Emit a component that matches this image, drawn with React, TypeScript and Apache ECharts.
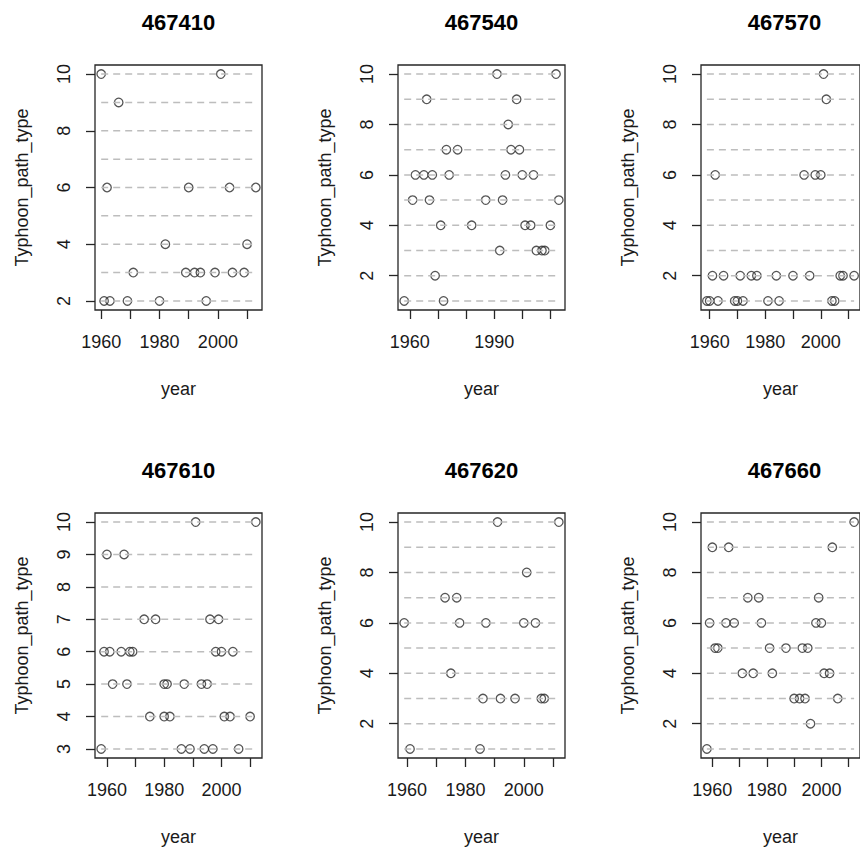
import React, { useEffect, useRef } from "react";
import * as echarts from "echarts";

// ---- data ----
const stations = ["467410", "467540", "467570", "467610", "467620", "467660"];

const years467410 = [1960, 2001, 1966, 1962, 1990, 2004, 2013, 1982, 2010, 1971, 1989, 1992, 1994, 1999, 2005, 2009, 1961, 1963, 1969, 1980, 1996];
const types467410 = [10, 10, 9, 6, 6, 6, 6, 4, 4, 3, 3, 3, 3, 3, 3, 3, 2, 2, 2, 2, 2];

const years467540 = [1991, 2012, 1966, 1998, 1995, 1973, 1977, 1996, 1999, 1962, 1965, 1968, 1974, 1994, 2000, 2004, 1961, 1967, 1987, 1993, 2013, 1971, 1982, 2001, 2003, 2010, 1992, 2005, 2007, 2008, 1969, 1958, 1972];
const types467540 = [10, 10, 9, 9, 8, 7, 7, 7, 7, 6, 6, 6, 6, 6, 6, 6, 5, 5, 5, 5, 5, 4, 4, 4, 4, 4, 3, 3, 3, 3, 2, 1, 1];

const years467570 = [2001, 2002, 1962, 1994, 1998, 2000, 1961, 1965, 1971, 1975, 1977, 1984, 1990, 1996, 2007, 2008, 2012, 1959, 1960, 1963, 1969, 1970, 1972, 1981, 1985, 2004, 2005];
const types467570 = [10, 9, 6, 6, 6, 6, 2, 2, 2, 2, 2, 2, 2, 2, 2, 2, 2, 1, 1, 1, 1, 1, 1, 1, 1, 1, 1];

const years467610 = [1991, 2012, 1960, 1966, 1973, 1977, 1996, 1999, 1959, 1961, 1965, 1968, 1969, 1998, 2000, 2004, 1962, 1967, 1980, 1981, 1987, 1993, 1995, 1975, 1980, 1982, 2001, 2003, 2010, 1958, 1986, 1989, 1994, 1997, 2006];
const types467610 = [10, 10, 9, 9, 7, 7, 7, 7, 6, 6, 6, 6, 6, 6, 6, 6, 5, 5, 5, 5, 5, 5, 5, 4, 4, 4, 4, 4, 4, 3, 3, 3, 3, 3, 3];

const years467620 = [1991, 2012, 2001, 1973, 1977, 1959, 1978, 1987, 2000, 2004, 1975, 1986, 1992, 1997, 2006, 2007, 1961, 1985];
const types467620 = [10, 10, 8, 7, 7, 6, 6, 6, 6, 6, 4, 3, 3, 3, 3, 3, 1, 1];

const years467660 = [2012, 1960, 1966, 2004, 1973, 1977, 1999, 1959, 1965, 1968, 1978, 1998, 2000, 1961, 1962, 1981, 1987, 1993, 1995, 1971, 1975, 1982, 2001, 2003, 1990, 1992, 1994, 2006, 1996, 1958];
const types467660 = [10, 9, 9, 9, 7, 7, 7, 6, 6, 6, 6, 6, 6, 5, 5, 5, 5, 5, 5, 4, 4, 4, 4, 4, 3, 3, 3, 3, 2, 1];

const panelYears = [years467410, years467540, years467570, years467610, years467620, years467660];
const panelTypes = [types467410, types467540, types467570, types467610, types467620, types467660];

const yearTicks = [1960, 1970, 1980, 1990, 2000, 2010];
const yearLabels = [
  [1960, 1980, 2000],
  [1960, 1990],
  [1960, 1980, 2000],
  [1960, 1980, 2000],
  [1960, 1980, 2000],
  [1960, 1980, 2000],
];
const typeTicks = [
  [2, 4, 6, 8, 10],
  [2, 4, 6, 8, 10],
  [2, 4, 6, 8, 10],
  [3, 4, 5, 6, 7, 8, 9, 10],
  [2, 4, 6, 8, 10],
  [2, 4, 6, 8, 10],
];

const xName = "year";
const yName = "Typhoon_path_type";

// ---- layout / style ----
const FONT = "'Liberation Sans', Arial, sans-serif";
const BOX_W = 167;
const BOX_H = 245;
const COL_STEP = 303;
const ROW_STEP = 448;
const LEFT0 = 95;
const TOP0 = 65;
const TEXT = "#1a1a1a";

function rRange(vals: number[]) {
  const lo = Math.min(...vals);
  const hi = Math.max(...vals);
  const d = (hi - lo) * 0.04;
  return { lo, hi, min: lo - d, max: hi + d };
}

function buildOption() {
  const grid: any[] = [];
  const xAxis: any[] = [];
  const yAxis: any[] = [];
  const series: any[] = [];
  const graphic: any[] = [];

  stations.forEach((st, i) => {
    const col = i % 3;
    const row = Math.floor(i / 3);
    const left = LEFT0 + COL_STEP * col;
    const top = TOP0 + ROW_STEP * row;
    const xr = rRange(panelYears[i]);
    const yr = rRange(panelTypes[i]);

    grid.push({
      left,
      top,
      width: BOX_W,
      height: BOX_H,
      show: true,
      borderColor: "#262626",
      borderWidth: 1.3,
      backgroundColor: "transparent",
      containLabel: false,
    });

    xAxis.push({
      type: "value",
      gridIndex: i,
      min: xr.min,
      max: xr.max,
      name: xName,
      nameLocation: "middle",
      nameGap: 70,
      nameTextStyle: { fontSize: 18, fontFamily: FONT, color: TEXT },
      axisLine: { show: false },
      axisTick: {
        show: true,
        length: 9,
        customValues: yearTicks.filter((v) => v >= xr.min && v <= xr.max),
        lineStyle: { color: "#262626", width: 1.3 },
      },
      axisLabel: {
        customValues: yearLabels[i],
        formatter: (v: number) => String(Math.round(v)),
        margin: 23,
        fontSize: 18,
        fontFamily: FONT,
        color: TEXT,
      },
      splitLine: { show: false },
    });

    yAxis.push({
      type: "value",
      gridIndex: i,
      min: yr.min,
      max: yr.max,
      name: yName,
      nameLocation: "middle",
      nameGap: 64,
      nameTextStyle: { fontSize: 18, fontFamily: FONT, color: TEXT },
      axisLine: { show: false },
      axisTick: {
        show: true,
        length: 9,
        customValues: typeTicks[i],
        lineStyle: { color: "#262626", width: 1.3 },
      },
      axisLabel: {
        customValues: typeTicks[i],
        formatter: (v: number) => String(Math.round(v)),
        rotate: 90,
        margin: 22,
        fontSize: 18,
        fontFamily: FONT,
        color: TEXT,
      },
      splitLine: { show: false },
    });

    for (let k = yr.lo; k <= yr.hi; k++) {
      series.push({
        type: "line",
        xAxisIndex: i,
        yAxisIndex: i,
        data: [
          [xr.lo, k],
          [xr.hi, k],
        ],
        symbol: "none",
        silent: true,
        lineStyle: { color: "#bdbdbd", width: 1.5, type: [7, 5] },
      });
    }

    series.push({
      type: "scatter",
      xAxisIndex: i,
      yAxisIndex: i,
      data: panelYears[i].map((yv, j) => [yv, panelTypes[i][j]]),
      symbol: "circle",
      symbolSize: 8.5,
      itemStyle: { color: "rgba(255,255,255,0)", borderColor: "#2a2a2a", borderWidth: 1.3 },
    });

    graphic.push({
      type: "text",
      x: left + BOX_W / 2,
      y: top - 43,
      style: {
        text: st,
        fontSize: 22,
        fontWeight: "bold",
        fontFamily: FONT,
        fill: "#000",
        align: "center",
        verticalAlign: "middle",
      },
    });
  });

  return {
    animation: false,
    backgroundColor: "#fff",
    grid,
    xAxis,
    yAxis,
    series,
    graphic,
  };
}

export default function App() {
  const ref = useRef<HTMLDivElement>(null);
  useEffect(() => {
    if (!ref.current) return;
    const chart = echarts.init(ref.current, undefined, { renderer: "svg" });
    chart.setOption(buildOption() as any);
    return () => chart.dispose();
  }, []);
  return (
    <div
      ref={ref}
      style={{ position: "absolute", left: 0, top: 0, width: 860, height: 850, background: "#fff" }}
    />
  );
}
